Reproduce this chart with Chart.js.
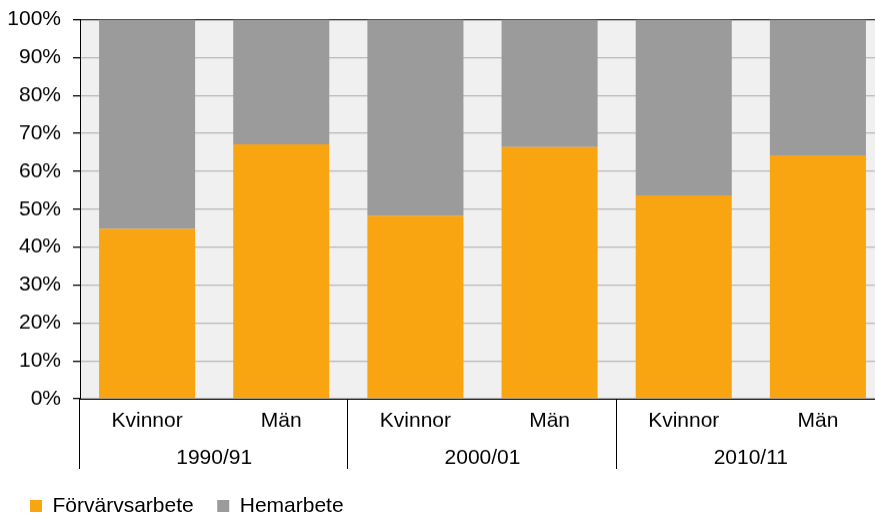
<!DOCTYPE html>
<html>
<head>
<meta charset="utf-8">
<script src="https://cdn.jsdelivr.net/npm/chart.js@4"></script>
<style>
  html, body { margin: 0; padding: 0; background: #fff; overflow: hidden; width: 875px; height: 514px; }
  #wrap { position: absolute; left: 0; top: 0; width: 890px; height: 525.5px; }
</style>
</head>
<body>
<div id="wrap"><canvas id="c"></canvas></div>
<script>
const categories = ['Kvinnor', 'Män', 'Kvinnor', 'Män', 'Kvinnor', 'Män'];
const groups = ['1990/91', '2000/01', '2010/11'];
const forvarvsarbete = [44.8, 67.1, 48.3, 66.4, 53.6, 64.2];
const hemarbete = [55.2, 32.9, 51.7, 33.6, 46.4, 35.8];
const yTicks = [0, 10, 20, 30, 40, 50, 60, 70, 80, 90, 100];

const FONT = "'Liberation Sans', Arial, sans-serif";
const FS = 21;

const bgPlugin = {
  id: 'plotBg',
  beforeDraw(chart) {
    const { ctx, chartArea: a } = chart;
    ctx.save();
    ctx.fillStyle = '#F0F0F0';
    ctx.fillRect(a.left, a.top, a.right - a.left, a.bottom - a.top);
    ctx.restore();
  }
};

const sepPlugin = {
  id: 'groupSeparators',
  afterDraw(chart) {
    const { ctx, chartArea: a } = chart;
    const g = chart.scales.x2;
    const step = g.getPixelForValue(1) - g.getPixelForValue(0);
    ctx.save();
    ctx.strokeStyle = '#000';
    ctx.lineWidth = 1;
    for (let k = 0; k <= groups.length; k++) {
      const x = Math.round(g.getPixelForValue(0) - step / 2 + k * step) - 0.5;
      ctx.beginPath();
      ctx.moveTo(x, a.bottom);
      ctx.lineTo(x, a.bottom + 70);
      ctx.stroke();
    }
    ctx.restore();
  }
};

new Chart(document.getElementById('c'), {
  type: 'bar',
  data: {
    labels: categories,
    datasets: [
      { label: 'Förvärvsarbete', data: forvarvsarbete, backgroundColor: '#F9A512', borderWidth: 0,
        barPercentage: 0.716, categoryPercentage: 1 },
      { label: 'Hemarbete', data: hemarbete, backgroundColor: '#9B9B9B', borderWidth: 0,
        barPercentage: 0.716, categoryPercentage: 1 }
    ]
  },
  plugins: [bgPlugin, sepPlugin],
  options: {
    responsive: true,
    maintainAspectRatio: false,
    animation: false,
    layout: { padding: { top: 19.5, right: 5, left: 6.5, bottom: 0 } },
    plugins: {
      tooltip: { enabled: false },
      legend: {
        position: 'bottom',
        align: 'start',
        labels: {
          boxWidth: 12, boxHeight: 12, padding: 23.5,
          color: '#000',
          font: { family: FONT, size: FS }
        }
      }
    },
    scales: {
      x: {
        type: 'category',
        stacked: true,
        offset: true,
        grid: { display: false, drawTicks: false },
        border: { display: true, color: '#000', width: 1 },
        ticks: { color: '#000', font: { family: FONT, size: FS }, padding: 10, maxRotation: 0, autoSkip: false },
        afterFit(s) { s.height = 37; }
      },
      x2: {
        type: 'category',
        position: 'bottom',
        labels: groups,
        offset: true,
        weight: 1,
        grid: { display: false, drawTicks: false },
        border: { display: false },
        ticks: { color: '#000', font: { family: FONT, size: FS }, padding: 10, maxRotation: 0, autoSkip: false },
        afterFit(s) { s.height = 36; }
      },
      y: {
        stacked: true,
        min: 0,
        max: 100,
        afterBuildTicks(s) { s.ticks = yTicks.map(v => ({ value: v })); },
        grid: {
          color: (c) => (c.tick && c.tick.value === 100) ? '#333333' : '#B8B8B8',
          tickColor: '#000',
          tickLength: 7,
          lineWidth: 1.3
        },
        border: { display: true, color: '#000', width: 1 },
        ticks: {
          color: '#000',
          font: { family: FONT, size: FS },
          padding: 12,
          callback: (v) => v + '%'
        },
        afterFit(s) { s.width = 73.5; s.paddingTop = 0; s.paddingBottom = 0; }
      }
    }
  }
});
</script>
</body>
</html>
